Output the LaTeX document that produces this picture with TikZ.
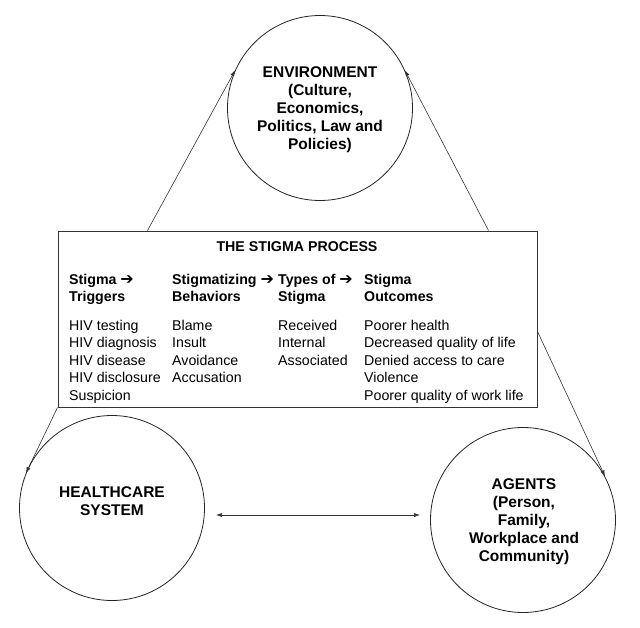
\documentclass[tikz,border=0pt]{standalone}
\usepackage{fontspec}
\setmainfont{Liberation Sans}
\newfontfamily\arrowfont{DejaVu Sans}
\usetikzlibrary{arrows.meta}
\newcommand{\sarr}{{\arrowfont\fontsize{16}{17.5}\selectfont ➔}}
\begin{document}
\begin{tikzpicture}[x=1pt,y=-1pt,
  circ/.style={draw=black!85, line width=0.8pt, circle, minimum size=185pt, inner sep=0pt},
  ctext/.style={font=\fontsize{15.5}{18}\selectfont\bfseries, align=center, inner sep=0pt},
  col/.style={font=\fontsize{14.2}{17.5}\selectfont, align=left, anchor=north west, inner sep=0pt},
  colh/.style={font=\fontsize{14.2}{17.5}\selectfont\bfseries, align=left, anchor=north west, inner sep=0pt},
  conn/.style={draw=black!80, line width=0.6pt, -{Latex[length=6pt,width=4pt]}},
  dconn/.style={draw=black!80, line width=0.6pt, {Latex[length=6pt,width=4pt]}-{Latex[length=6pt,width=4pt]}}
]
\useasboundingbox (0,0) rectangle (640,627);
\fill[white] (0,0) rectangle (640,627);

% circles
\node[circ] (env) at (320,108) {};
\node[circ] (hc) at (112,508) {};
\node[circ] (ag) at (523,520) {};

\node[ctext] (envt) at (320,110) {ENVIRONMENT\\(Culture,\\Economics,\\Politics, Law and\\Policies)};
\node[ctext] (hct) at (112,501) {HEALTHCARE\\SYSTEM};
\node[ctext] (agt) at (524,522) {AGENTS\\(Person,\\Family,\\Workplace and\\Community)};

% box
\node[draw=black!80, line width=1pt, fill=white, minimum width=479pt, minimum height=176pt, inner sep=0pt] (box) at (297.5,319) {};

\node[font=\fontsize{14.2}{17.5}\selectfont\bfseries, anchor=base, inner sep=0pt] (title) at (297,251) {THE STIGMA PROCESS};

\node[colh] (h1) at (69,273.7) {Stigma \sarr\\Triggers};
\node[colh] (h2) at (172,273.7) {Stigmatizing \sarr\\Behaviors};
\node[colh] (h3) at (278,273.7) {Types of \sarr\\Stigma};
\node[colh] (h4) at (364,273.7) {Stigma\\Outcomes};

\node[col] (c1) at (69,319.7) {HIV testing\\HIV diagnosis\\HIV disease\\HIV disclosure\\Suspicion};
\node[col] (c2) at (172,319.7) {Blame\\Insult\\Avoidance\\Accusation};
\node[col] (c3) at (278,319.7) {Received\\Internal\\Associated};
\node[col] (c4) at (364,319.7) {Poorer health\\Decreased quality of life\\Denied access to care\\Violence\\Poorer quality of work life};

% connectors
\coordinate (bul) at ([xshift=90pt]box.north west);
\coordinate (bur) at ([xshift=-49pt]box.north east);
\coordinate (bre) at ([yshift=-101pt]box.north east);
\coordinate (bll) at (box.south west);
\draw[conn] (bul) -- (env.156);
\draw[conn] (bur) -- (env.24);
\draw[conn] (bll) -- (hc.158);
\draw[conn] (bre) -- (ag.28);
\draw[dconn] ([xshift=11pt,yshift=-7pt]hc.east) -- ([xshift=-10pt,yshift=5pt]ag.west);
\end{tikzpicture}
\end{document}
